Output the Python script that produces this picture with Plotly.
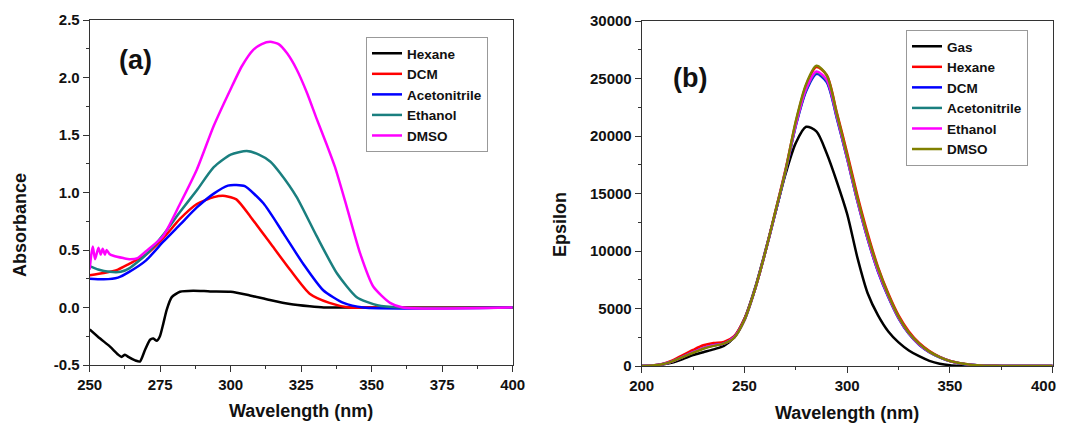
import plotly.graph_objects as go

# ---------------- Panel (a): Absorbance ----------------
hex_x = [250, 253.7, 257.2, 260.1, 261.3, 262.5, 263.7, 266.1, 267.8, 269.6, 271.4, 272.6, 273.8,
         274.9, 276.1, 277.3, 279.1, 282, 286.7, 292.7, 300, 306.8, 313.9, 321, 328, 333, 340, 400]
hex_y = [-0.19, -0.27, -0.34, -0.41, -0.43, -0.41, -0.43, -0.46, -0.47, -0.37, -0.28, -0.27, -0.29,
         -0.25, -0.14, -0.02, 0.09, 0.137, 0.146, 0.14, 0.137, 0.105, 0.065, 0.03, 0.01, 0.0, 0.0, 0.0]

dcm_x = [250, 255, 260, 264, 270, 276, 282, 288, 294, 298, 302, 307, 314, 321, 328, 335, 342, 350, 400]
dcm_y = [0.28, 0.30, 0.33, 0.38, 0.46, 0.60, 0.77, 0.90, 0.96, 0.97, 0.94, 0.79, 0.56, 0.33, 0.12, 0.04, 0.0, 0.0, 0.0]

ace_x = [250, 255, 260, 264, 270, 276, 282, 288, 294, 299, 302, 305, 311.6, 318.7, 325.7, 332.8, 340, 347, 400]
ace_y = [0.25, 0.245, 0.26, 0.31, 0.41, 0.57, 0.72, 0.87, 0.99, 1.06, 1.065, 1.055, 0.906, 0.645, 0.38, 0.15, 0.04, 0.0, 0.0]

eth_x = [250, 253, 257, 261, 264, 270, 276, 282, 288, 294, 300, 305.7, 310, 314, 317.5, 323.4, 330.5,
         337.6, 344.7, 352, 360, 400]
eth_y = [0.36, 0.33, 0.31, 0.31, 0.34, 0.46, 0.63, 0.83, 1.02, 1.22, 1.33, 1.36, 1.33, 1.27, 1.17, 0.96,
         0.62, 0.30, 0.09, 0.02, 0.0, 0.0]

dmso_x = [250, 250.5, 251.1, 251.9, 253.1, 253.9, 254.6, 255.4, 256, 257, 258.4, 261.9, 264.3, 267,
          270, 276, 282, 288, 294, 300, 304, 308, 311, 314, 317, 320, 323.4, 327, 330.5, 334, 337,
          341.1, 345.9, 350.6, 356.5, 361, 400]
dmso_y = [0.33, 0.45, 0.53, 0.42, 0.52, 0.46, 0.51, 0.46, 0.50, 0.465, 0.45, 0.43, 0.42, 0.43,
          0.49, 0.62, 0.90, 1.20, 1.58, 1.90, 2.10, 2.24, 2.29, 2.31, 2.29, 2.21, 2.07, 1.87, 1.64,
          1.42, 1.22, 0.88, 0.47, 0.18, 0.04, 0.0, 0.0]

a_names = ["Hexane", "DCM", "Acetonitrile", "Ethanol", "DMSO"]
a_colors = ["#000000", "#ff0000", "#0000ff", "#1a7f7f", "#ff00ff"]
a_xs = [hex_x, dcm_x, ace_x, eth_x, dmso_x]
a_ys = [hex_y, dcm_y, ace_y, eth_y, dmso_y]

a_yticks = [-0.5, 0.0, 0.5, 1.0, 1.5, 2.0, 2.5]
a_yticktext = ["-0.5", "0.0", "0.5", "1.0", "1.5", "2.0", "2.5"]
a_xticks = [250, 275, 300, 325, 350, 375, 400]

# ---------------- Panel (b): Epsilon ----------------
wl_b = list(range(200, 405, 5))
gas_b = [0, 30, 120, 300, 600, 950, 1200, 1450, 1750, 2500, 4100, 6700, 9900, 13300, 16700, 19400,
         20800, 20400, 18500, 16000, 13200, 9400, 6300, 4400, 3000, 2050, 1350, 850, 450, 200, 70, 20,
         0, 0, 0, 0, 0, 0, 0, 0, 0]
hex_b = [0, 50, 180, 480, 950, 1400, 1800, 2000, 2100, 2600, 4100, 6600, 9800, 13400, 17100, 21200,
         24400, 26000, 25300, 22000, 18500, 14800, 11500, 8600, 6300, 4400, 3000, 2000, 1300, 800, 450,
         250, 120, 60, 25, 10, 0, 0, 0, 0, 0]
dcm_b = [0, 40, 150, 400, 800, 1200, 1550, 1800, 1950, 2500, 4000, 6600, 9800, 13300, 16900, 20900,
         23900, 25400, 24700, 21500, 18000, 14300, 11000, 8200, 6000, 4150, 2800, 1850, 1200, 750, 420,
         220, 100, 50, 20, 5, 0, 0, 0, 0, 0]
ace_b = [0, 40, 150, 400, 800, 1200, 1550, 1800, 1950, 2500, 4000, 6600, 9800, 13300, 16950, 20950,
         24000, 25500, 24800, 21600, 18050, 14350, 11050, 8250, 6050, 4180, 2820, 1860, 1210, 760, 425,
         225, 100, 50, 20, 5, 0, 0, 0, 0, 0]
eth_b = [0, 40, 150, 400, 800, 1200, 1550, 1800, 1950, 2500, 4000, 6600, 9800, 13350, 17000, 21000,
         24100, 25600, 24900, 21700, 18100, 14400, 11100, 8300, 6080, 4200, 2840, 1880, 1220, 770, 430,
         230, 105, 50, 20, 5, 0, 0, 0, 0, 0]
dmso_b = [0, 40, 150, 400, 780, 1150, 1500, 1750, 1950, 2450, 4000, 6600, 9800, 13400, 17000, 21300,
          24500, 26100, 25300, 21900, 18300, 14600, 11300, 8500, 6200, 4300, 2900, 1950, 1250, 780, 440,
          240, 110, 50, 20, 5, 0, 0, 0, 0, 0]

b_names = ["Gas", "Hexane", "DCM", "Acetonitrile", "Ethanol", "DMSO"]
b_colors = ["#000000", "#ff0000", "#0000ff", "#1a7f7f", "#ff00ff", "#808000"]
b_ys = [gas_b, hex_b, dcm_b, ace_b, eth_b, dmso_b]

b_yticks = [0, 5000, 10000, 15000, 20000, 25000, 30000]
b_xticks = [200, 250, 300, 350, 400]
b_xticktext = ["200", "250", "300", "350", ""]  # last label drawn separately so it stays in view
b_last_label = "400"

FONT = "Liberation Sans, Arial, sans-serif"
W, H = 1065, 424
OFF = 8  # page body margin offset


def px(p):
    return (p - OFF) / W


def py(p):
    return 1 - (p - OFF) / H


fig = go.Figure()
for n, c, xs, ys in zip(a_names, a_colors, a_xs, a_ys):
    fig.add_trace(go.Scatter(x=xs, y=ys, name=n, mode="lines",
                             line=dict(color=c, width=2.5, shape="spline", smoothing=0.6),
                             xaxis="x", yaxis="y", legend="legend"))
for n, c, ys in zip(b_names, b_colors, b_ys):
    fig.add_trace(go.Scatter(x=wl_b, y=ys, name=n, mode="lines",
                             line=dict(color=c, width=2.5, shape="spline", smoothing=0.8),
                             xaxis="x2", yaxis="y2", legend="legend2"))

tickfont = dict(family=FONT, size=15, color="#111111", weight="bold")
axcommon = dict(showline=True, mirror=True, linecolor="#333333", linewidth=1,
                ticks="outside", ticklen=6, tickcolor="#333333", tickwidth=1,
                showgrid=False, zeroline=False, tickfont=tickfont, automargin=False,
                ticklabeloverflow="allow")
legfont = dict(family=FONT, size=13.5, color="#111111", weight="bold")

fig.update_layout(
    width=W, height=H, autosize=False,
    margin=dict(l=0, r=0, t=0, b=0, pad=0, autoexpand=False),
    paper_bgcolor="white", plot_bgcolor="white",
    showlegend=True,
    xaxis=dict(domain=[px(89.7), px(512.7)], range=[250, 400], anchor="y",
               tickvals=a_xticks, minor=dict(dtick=12.5, tick0=250, ticks="outside", ticklen=3,
                                             tickcolor="#333333"), **axcommon),
    yaxis=dict(domain=[py(365), py(20)], range=[-0.5, 2.5], anchor="x",
               tickvals=a_yticks, ticktext=a_yticktext,
               minor=dict(dtick=0.25, tick0=0, ticks="outside", ticklen=3, tickcolor="#333333"),
               **axcommon),
    xaxis2=dict(domain=[px(641.7), px(1052.7)], range=[200, 400], anchor="y2",
                tickvals=b_xticks, ticktext=b_xticktext,
                minor=dict(dtick=25, tick0=200, ticks="outside", ticklen=3,
                           tickcolor="#333333"), **axcommon),
    yaxis2=dict(domain=[py(366), py(21)], range=[0, 30000], anchor="x2",
                tickvals=b_yticks, tickformat="d",
                minor=dict(dtick=2500, tick0=0, ticks="outside", ticklen=3, tickcolor="#333333"),
                **axcommon),
    legend=dict(x=px(366), y=py(37), xanchor="left", yanchor="top",
                bordercolor="#999999", borderwidth=1, bgcolor="white",
                font=legfont, tracegroupgap=0, itemwidth=30),
    legend2=dict(x=px(906), y=py(30), xanchor="left", yanchor="top",
                 bordercolor="#999999", borderwidth=1, bgcolor="white",
                 font=legfont, tracegroupgap=0, itemwidth=30),
)

fig.add_annotation(text=b_last_label, x=px(1057), y=py(385), xref="paper", yref="paper",
                   showarrow=False, font=tickfont, xanchor="right", yanchor="middle",
                   borderpad=0)

ann_font_title = dict(family=FONT, size=18, color="#111111", weight="bold")
fig.add_annotation(text="Wavelength (nm)", x=px((89.7 + 512.7) / 2), y=py(411),
                   xref="paper", yref="paper", showarrow=False, font=ann_font_title,
                   xanchor="center", yanchor="middle")
fig.add_annotation(text="Wavelength (nm)", x=px((641.7 + 1052.7) / 2), y=py(413),
                   xref="paper", yref="paper", showarrow=False, font=ann_font_title,
                   xanchor="center", yanchor="middle")
fig.add_annotation(text="Absorbance", x=px(20), y=py(225), textangle=-90,
                   xref="paper", yref="paper", showarrow=False, font=ann_font_title,
                   xanchor="center", yanchor="middle")
fig.add_annotation(text="Epsilon", x=px(560), y=py(225), textangle=-90,
                   xref="paper", yref="paper", showarrow=False, font=ann_font_title,
                   xanchor="center", yanchor="middle")
ann_font_lbl = dict(family=FONT, size=27, color="#111111", weight="bold")
fig.add_annotation(text="(a)", x=px(135), y=py(60), xref="paper", yref="paper",
                   showarrow=False, font=ann_font_lbl, xanchor="center", yanchor="middle")
fig.add_annotation(text="(b)", x=px(690), y=py(78), xref="paper", yref="paper",
                   showarrow=False, font=ann_font_lbl, xanchor="center", yanchor="middle")

fig.write_html("out.html")
